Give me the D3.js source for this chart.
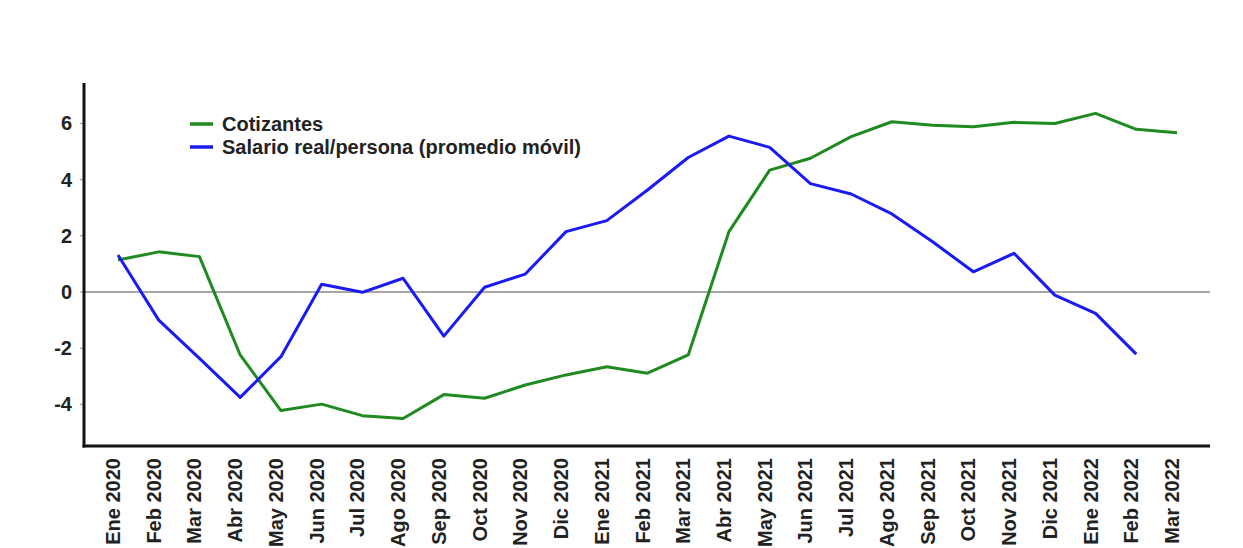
<!DOCTYPE html>
<html>
<head>
<meta charset="utf-8">
<script src="https://cdn.jsdelivr.net/npm/d3@7/dist/d3.min.js"></script>
<style>
  body { margin: 0; background: #fff; }
  svg text { font-family: "Liberation Sans", Arial, sans-serif; font-weight: bold; fill: #222; }
</style>
</head>
<body>
<svg id="chart" width="1243" height="548"></svg>
<script>
// Cotizantes vs salario real, variación %
const months = [
  "Ene 2020", "Feb 2020", "Mar 2020", "Abr 2020", "May 2020", "Jun 2020", "Jul 2020",
  "Ago 2020", "Sep 2020", "Oct 2020", "Nov 2020", "Dic 2020", "Ene 2021", "Feb 2021",
  "Mar 2021", "Abr 2021", "May 2021", "Jun 2021", "Jul 2021", "Ago 2021", "Sep 2021",
  "Oct 2021", "Nov 2021", "Dic 2021", "Ene 2022", "Feb 2022", "Mar 2022"
];
const cotizantes = [
  1.14, 1.43, 1.26, -2.24, -4.22, -3.99, -4.40, -4.50, -3.65, -3.78, -3.31, -2.95, -2.66,
  -2.89, -2.24, 2.15, 4.34, 4.76, 5.53, 6.06, 5.94, 5.88, 6.04, 6.00, 6.36, 5.79, 5.67
];
const salario = [
  1.32, -1.00, -2.36, -3.75, -2.30, 0.28, -0.01, 0.49, -1.57, 0.17, 0.64, 2.15, 2.54,
  3.63, 4.79, 5.55, 5.15, 3.86, 3.49, 2.78, 1.79, 0.72, 1.38, -0.11, -0.76, -2.21, null
];
const yTicks = [-4, -2, 0, 2, 4, 6];
const seriesNames = ["Cotizantes", "Salario real/persona (promedio móvil)"];
const seriesColors = ["#1f8a1f", "#1a1af5"];

const svg = d3.select("#chart");
const axisLeftX = 84, axisRightX = 1210;

const x = d3.scalePoint().domain(months).range([118, 1177]);
const y = d3.scaleLinear().domain([-5.48, 7.44]).range([446, 83]);

// zero line
svg.append("line")
  .attr("x1", axisLeftX).attr("x2", axisRightX)
  .attr("y1", y(0)).attr("y2", y(0))
  .attr("stroke", "#a6a6a6").attr("stroke-width", 2);

// lines
const series = [cotizantes, salario];
series.forEach((vals, i) => {
  const line = d3.line()
    .defined(d => d.v !== null)
    .x(d => x(d.m))
    .y(d => y(d.v));
  svg.append("path")
    .datum(months.map((m, j) => ({ m, v: vals[j] })))
    .attr("fill", "none")
    .attr("stroke", seriesColors[i])
    .attr("stroke-width", 3)
    .attr("stroke-linejoin", "round")
    .attr("d", line);
});

// small y ticks
svg.selectAll(".ytickmark")
  .data(yTicks)
  .enter().append("line")
  .attr("x1", axisLeftX - 4).attr("x2", axisLeftX)
  .attr("y1", d => y(d)).attr("y2", d => y(d))
  .attr("stroke", "#999").attr("stroke-width", 1);

// axes
svg.append("line")
  .attr("x1", axisLeftX).attr("x2", axisLeftX)
  .attr("y1", y.range()[1]).attr("y2", y.range()[0] + 1.5)
  .attr("stroke", "#111").attr("stroke-width", 3);
svg.append("line")
  .attr("x1", axisLeftX - 1.5).attr("x2", axisRightX)
  .attr("y1", y.range()[0]).attr("y2", y.range()[0])
  .attr("stroke", "#111").attr("stroke-width", 3);

// y tick labels
svg.selectAll(".ytick")
  .data(yTicks)
  .enter().append("text")
  .attr("class", "ytick")
  .attr("x", 72)
  .attr("y", d => y(d))
  .attr("dy", "0.35em")
  .attr("text-anchor", "end")
  .attr("font-size", 20)
  .text(d => d);

// x tick labels
svg.selectAll(".xtick")
  .data(months)
  .enter().append("text")
  .attr("class", "xtick")
  .attr("transform", d => `translate(${x(d) - 5},458) rotate(-90)`)
  .attr("dy", "0.35em")
  .attr("text-anchor", "end")
  .attr("font-size", 20)
  .text(d => d);

// legend
const legend = svg.append("g").attr("transform", "translate(190,124)");
seriesNames.forEach((name, i) => {
  const row = legend.append("g").attr("transform", `translate(0,${i * 23})`);
  row.append("line")
    .attr("x1", 0).attr("x2", 23)
    .attr("stroke", seriesColors[i]).attr("stroke-width", 3.5);
  row.append("text")
    .attr("x", 32).attr("dy", "0.35em")
    .attr("font-size", 20)
    .text(name);
});
</script>
</body>
</html>
